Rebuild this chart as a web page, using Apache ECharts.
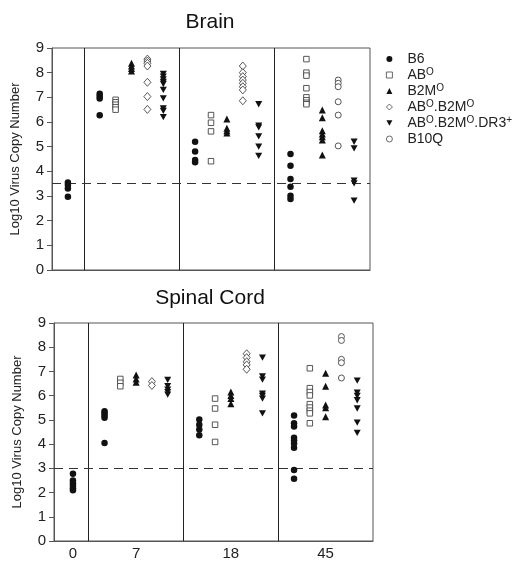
<!DOCTYPE html>
<html><head><meta charset="utf-8">
<script src="https://cdn.jsdelivr.net/npm/echarts@6/dist/echarts.min.js"></script>
<style>html,body{margin:0;padding:0;background:#fff}#c{width:522px;height:561px}</style>
</head><body><div id="c"></div>
<script>
// ---- data ----
const days = ['0', '7', '18', '45'];
const strains = ['B6', 'ABO', 'B2MO', 'ABO.B2MO', 'ABO.B2MO.DR3+', 'B10Q'];
const yTicks = [0, 1, 2, 3, 4, 5, 6, 7, 8, 9];
const brainThreshold = 3.5;
const spinalThreshold = 3.0;

// Brain: values per day group [0, 7, 18, 45]
const brainB6 = [[3.55, 3.45, 3.3, 2.97], [7.15, 7.05, 6.95, 6.27], [5.2, 4.8, 4.46, 4.37], [4.7, 4.23, 3.69, 3.38, 3.01, 2.88]];
const brainAB = [[], [6.9, 6.8, 6.7, 6.6, 6.5], [6.28, 5.97, 5.62, 4.41], [8.55, 8.0, 7.88, 7.37, 7.0, 6.88, 6.78, 6.72]];
const brainB2M = [[], [8.38, 8.27, 8.17, 8.07], [6.12, 5.75, 5.65, 5.55], [6.49, 6.17, 5.65, 5.51, 5.4, 5.27, 4.66]];
const brainABB2M = [[], [8.55, 8.47, 8.38, 8.27, 7.61, 7.03, 6.51], [8.27, 8.0, 7.84, 7.7, 7.57, 7.43, 7.3, 6.86], []];
const brainDR3 = [[], [7.95, 7.84, 7.73, 7.63, 7.54, 7.3, 6.96, 6.55, 6.45, 6.2], [6.72, 5.85, 5.78, 5.42, 5.0, 4.63], [5.2, 4.93, 3.62, 3.51, 2.81]];
const brainB10Q = [[], [], [], [7.7, 7.57, 7.43, 6.82, 6.28, 5.03]];

// Spinal cord
const spinB6 = [[2.78, 2.5, 2.38, 2.28, 2.18, 2.1], [5.36, 5.27, 5.18, 5.09, 4.05], [5.02, 4.8, 4.6, 4.37], [5.18, 4.86, 4.73, 4.26, 4.15, 4.03, 3.85, 2.93, 2.57]];
const spinAB = [[], [6.69, 6.53, 6.39], [5.88, 5.47, 4.8, 4.09], [7.13, 6.31, 6.15, 6.01, 5.65, 5.51, 5.38, 5.27, 4.86]];
const spinB2M = [[], [6.85, 6.69, 6.55], [6.15, 6.01, 5.88, 5.67], [6.93, 6.39, 5.61, 5.5, 5.13]];
const spinABB2M = [[], [6.58, 6.42], [7.73, 7.57, 7.4, 7.27, 7.09], []];
const spinDR3 = [[], [6.65, 6.39, 6.25, 6.15, 6.04], [7.57, 6.8, 6.66, 6.08, 5.99, 5.88, 5.27], [6.62, 6.12, 5.99, 5.81, 5.47, 4.89, 4.46]];
const spinB10Q = [[], [], [], [8.44, 8.28, 7.5, 7.36, 6.73]];

// ---- layout (slot positions on the x value axis) ----
const groupLeft = [0, 2, 8, 14];
const strainSlot = [1, 2, 3, 4, 5, 4];
const dividers = [2, 8, 14];
const dayLabelPos = [1, 5, 11, 17];

const FONT = '"Liberation Sans", Arial, sans-serif';
const invTri = 'path://M0,0 L10,0 L5,9 Z';
const styles = [
  {symbol: 'circle', symbolSize: 6.5, itemStyle: {color: '#111', opacity: 1}},
  {symbol: 'rect', symbolSize: 5.5, itemStyle: {color: '#fff', borderColor: '#444', borderWidth: 0.9, opacity: 1}},
  {symbol: 'triangle', symbolSize: 7, itemStyle: {color: '#111', opacity: 1}},
  {symbol: 'diamond', symbolSize: [7, 8], itemStyle: {color: '#fff', borderColor: '#444', borderWidth: 0.9, opacity: 1}},
  {symbol: invTri, symbolSize: 7, itemStyle: {color: '#111', opacity: 1}},
  {symbol: 'circle', symbolSize: 6, itemStyle: {color: '#fff', borderColor: '#444', borderWidth: 0.9, opacity: 1}}
];

function toPoints(groups, si) {
  const pts = [];
  groups.forEach((vals, g) => {
    const x = g === 0 ? groupLeft[0] + 1 : groupLeft[g] + strainSlot[si];
    vals.forEach(v => pts.push([x, v]));
  });
  return pts;
}

const brainSets = [brainB6, brainAB, brainB2M, brainABB2M, brainDR3, brainB10Q];
const spinSets = [spinB6, spinAB, spinB2M, spinABB2M, spinDR3, spinB10Q];

const series = [];
[brainSets, spinSets].forEach((sets, gi) => {
  sets.forEach((groups, si) => {
    series.push(Object.assign({
      type: 'scatter', name: strains[si], xAxisIndex: gi, yAxisIndex: gi,
      symbolKeepAspect: true, data: toPoints(groups, si), z: 5
    }, styles[si]));
  });
  series.push({
    type: 'scatter', name: 'lines' + gi, xAxisIndex: gi, yAxisIndex: gi, data: [],
    markLine: {
      silent: true, symbol: 'none', animation: false, label: {show: false},
      data: dividers.map(d => ({xAxis: d, lineStyle: {color: '#222', width: 1, type: 'solid'}}))
        .concat([{yAxis: gi === 0 ? brainThreshold : spinalThreshold, lineStyle: {color: '#333', width: 1.2, type: [9, 6]}}])
    }
  });
});

function yAxis(gi) {
  return {
    type: 'value', gridIndex: gi, min: yTicks[0], max: yTicks[yTicks.length - 1], interval: 1,
    name: 'Log10 Virus Copy Number', nameLocation: 'middle', nameGap: 30,
    nameTextStyle: {fontFamily: FONT, fontSize: 13, color: '#222'},
    axisLine: {show: true, onZero: false, lineStyle: {color: '#555', width: 1}},
    axisTick: {show: true, length: 5, lineStyle: {color: '#555'}},
    axisLabel: {fontFamily: FONT, fontSize: 15, color: '#222', margin: 8},
    splitLine: {show: false}
  };
}

const legendData = strains.map((n, i) => ({name: n, icon: styles[i].symbol}));

const option = {
  animation: false,
  backgroundColor: '#fff',
  grid: [
    {left: 52, right: 152, top: 48, bottom: 291, show: true, borderColor: '#555', borderWidth: 1},
    {left: 54, right: 149, top: 323, bottom: 16, show: true, borderColor: '#555', borderWidth: 1}
  ],
  xAxis: [
    {type: 'value', gridIndex: 0, min: 0, max: 20, axisLine: {show: true, onZero: false, lineStyle: {color: '#555'}},
     axisTick: {show: false}, axisLabel: {show: false}, splitLine: {show: false}},
    {type: 'value', gridIndex: 1, min: -0.2, max: 20, axisLine: {show: true, onZero: false, lineStyle: {color: '#555'}},
     axisTick: {show: false}, splitLine: {show: false},
     axisLabel: {show: true, customValues: dayLabelPos, fontFamily: FONT, fontSize: 15, color: '#222', margin: 5,
       formatter: v => { const i = dayLabelPos.indexOf(Math.round(v)); return i >= 0 ? days[i] : ''; }}}
  ],
  yAxis: [yAxis(0), yAxis(1)],
  legend: {
    orient: 'vertical', left: 381, top: 46, itemWidth: 6, itemHeight: 6, itemGap: 0,
    data: legendData,
    itemStyle: {borderWidth: 0.8},
    textStyle: {fontFamily: FONT, fontSize: 14, color: '#222', lineHeight: 16,
      rich: {
        g: {width: 10},
        t: {fontFamily: FONT, fontSize: 14, color: '#222', lineHeight: 16},
        s: {fontFamily: FONT, fontSize: 10, color: '#222', lineHeight: 16, padding: [0, 0, 5, 0]}
      }},
    formatter: n => '{g|}{t|' + n.replace(/O/g, '}{s|O}{t|').replace('+', '}{s|+}{t|') + '}'
  },
  graphic: [
    {type: 'text', x: 210, y: 22, style: {text: 'Brain', font: '21px ' + FONT, fill: '#111', textAlign: 'center', textVerticalAlign: 'middle'}},
    {type: 'text', x: 210, y: 298, style: {text: 'Spinal Cord', font: '21px ' + FONT, fill: '#111', textAlign: 'center', textVerticalAlign: 'middle'}}
  ],
  series: series
};
echarts.init(document.getElementById('c')).setOption(option);
</script></body></html>
